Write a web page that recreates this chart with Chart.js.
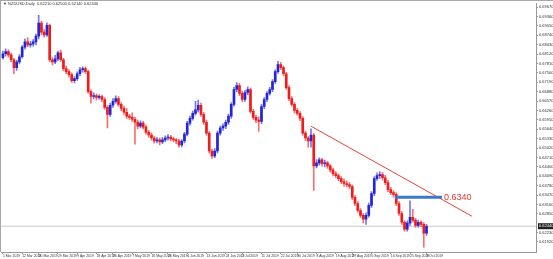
<!DOCTYPE html>
<html>
<head>
<meta charset="utf-8">
<script src="https://cdn.jsdelivr.net/npm/chart.js@4/dist/chart.umd.min.js"></script>
<style>
  body { margin: 0; background: #fff; }
  #wrap { width: 553px; height: 259px; }
</style>
</head>
<body>
<div id="wrap"><canvas id="NzdUsdDaily"></canvas></div>
<script>
// NZDUSD daily candles, 1 Mar 2019 .. 3 Oct 2019 (one entry per weekday)
const opens = [
  0.6800,0.6813,0.6820,0.6809,0.6793,0.6767,0.6786,0.6803,0.6835,0.6852,
  0.6842,0.6845,0.6852,0.6871,0.6914,0.6884,0.6875,0.6907,0.6793,0.6786,
  0.6796,0.6816,0.6793,0.6764,0.6754,0.6744,0.6724,0.6731,0.6747,0.6760,
  0.6764,0.6754,0.6688,0.6672,0.6675,0.6669,0.6672,0.6662,0.6636,0.6613,
  0.6643,0.6656,0.6665,0.6646,0.6633,0.6620,0.6607,0.6603,0.6597,0.6587,
  0.6574,0.6584,0.6571,0.6554,0.6545,0.6535,0.6525,0.6529,0.6522,0.6529,
  0.6535,0.6538,0.6532,0.6529,0.6525,0.6512,0.6525,0.6548,0.6584,0.6600,
  0.6616,0.6628,0.6643,0.6613,0.6587,0.6551,0.6492,0.6476,0.6492,0.6551,
  0.6568,0.6574,0.6587,0.6607,0.6646,0.6695,0.6708,0.6682,0.6662,0.6685,
  0.6695,0.6623,0.6603,0.6594,0.6590,0.6639,0.6662,0.6682,0.6695,0.6721,
  0.6754,0.6777,0.6767,0.6747,0.6701,0.6665,0.6646,0.6626,0.6616,0.6600,
  0.6551,0.6535,0.6525,0.6545,0.6443,0.6453,0.6463,0.6450,0.6453,0.6443,
  0.6430,0.6417,0.6411,0.6401,0.6391,0.6385,0.6381,0.6375,0.6339,0.6319,
  0.6296,0.6280,0.6267,0.6280,0.6313,0.6352,0.6401,0.6411,0.6414,0.6404,
  0.6388,0.6365,0.6355,0.6349,0.6319,0.6286,0.6257,0.6234,0.6254,0.6273,
  0.6264,0.6247,0.6257,0.6250,0.6221
];
const highs = [
  0.6822,0.6829,0.6826,0.6815,0.6798,0.6792,0.6810,0.6840,0.6862,0.6866,
  0.6854,0.6860,0.6878,0.6940,0.6920,0.6893,0.6915,0.6911,0.6800,0.6808,
  0.6822,0.6825,0.6798,0.6772,0.6761,0.6750,0.6738,0.6753,0.6768,0.6770,
  0.6770,0.6758,0.6694,0.6684,0.6681,0.6678,0.6677,0.6668,0.6642,0.6650,
  0.6665,0.6674,0.6672,0.6652,0.6640,0.6632,0.6613,0.6618,0.6603,0.6594,
  0.6592,0.6590,0.6578,0.6560,0.6552,0.6541,0.6536,0.6535,0.6537,0.6542,
  0.6546,0.6544,0.6538,0.6534,0.6531,0.6530,0.6554,0.6590,0.6607,0.6624,
  0.6656,0.6660,0.6650,0.6620,0.6594,0.6556,0.6498,0.6500,0.6558,0.6574,
  0.6582,0.6594,0.6614,0.6652,0.6702,0.6718,0.6715,0.6690,0.6692,0.6704,
  0.6700,0.6630,0.6610,0.6605,0.6646,0.6668,0.6688,0.6702,0.6728,0.6760,
  0.6788,0.6785,0.6772,0.6752,0.6708,0.6672,0.6652,0.6632,0.6622,0.6606,
  0.6558,0.6540,0.6565,0.6550,0.6464,0.6470,0.6468,0.6462,0.6458,0.6448,
  0.6436,0.6424,0.6417,0.6408,0.6400,0.6394,0.6388,0.6380,0.6345,0.6325,
  0.6302,0.6286,0.6288,0.6320,0.6358,0.6408,0.6420,0.6424,0.6422,0.6412,
  0.6395,0.6372,0.6362,0.6355,0.6325,0.6292,0.6262,0.6262,0.6328,0.6300,
  0.6270,0.6264,0.6262,0.6256,0.6250
];
const lows = [
  0.6795,0.6805,0.6802,0.6786,0.6747,0.6758,0.6779,0.6798,0.6828,0.6836,
  0.6835,0.6838,0.6842,0.6862,0.6876,0.6868,0.6870,0.6786,0.6776,0.6780,
  0.6790,0.6788,0.6757,0.6747,0.6736,0.6718,0.6717,0.6725,0.6741,0.6752,
  0.6748,0.6682,0.6650,0.6664,0.6660,0.6663,0.6655,0.6630,0.6568,0.6606,
  0.6636,0.6650,0.6640,0.6625,0.6613,0.6600,0.6596,0.6590,0.6515,0.6566,
  0.6568,0.6564,0.6548,0.6538,0.6528,0.6518,0.6519,0.6512,0.6516,0.6523,
  0.6528,0.6525,0.6522,0.6516,0.6505,0.6506,0.6519,0.6542,0.6577,0.6594,
  0.6610,0.6620,0.6606,0.6580,0.6544,0.6485,0.6468,0.6470,0.6486,0.6544,
  0.6560,0.6566,0.6580,0.6600,0.6640,0.6688,0.6675,0.6655,0.6656,0.6678,
  0.6617,0.6596,0.6586,0.6557,0.6582,0.6632,0.6655,0.6676,0.6688,0.6715,
  0.6748,0.6760,0.6740,0.6695,0.6658,0.6640,0.6618,0.6610,0.6592,0.6544,
  0.6526,0.6505,0.6505,0.6362,0.6436,0.6445,0.6442,0.6440,0.6435,0.6422,
  0.6410,0.6404,0.6394,0.6384,0.6376,0.6374,0.6368,0.6332,0.6312,0.6290,
  0.6272,0.6255,0.6250,0.6274,0.6306,0.6345,0.6395,0.6402,0.6397,0.6381,
  0.6358,0.6348,0.6340,0.6312,0.6280,0.6250,0.6228,0.6228,0.6247,0.6257,
  0.6240,0.6241,0.6243,0.6175,0.6214
];
const closes = [
  0.6813,0.6820,0.6809,0.6793,0.6767,0.6786,0.6803,0.6835,0.6852,0.6842,
  0.6845,0.6852,0.6871,0.6914,0.6884,0.6875,0.6907,0.6793,0.6786,0.6796,
  0.6816,0.6793,0.6764,0.6754,0.6744,0.6724,0.6731,0.6747,0.6760,0.6764,
  0.6754,0.6688,0.6672,0.6675,0.6669,0.6672,0.6662,0.6636,0.6613,0.6643,
  0.6656,0.6665,0.6646,0.6633,0.6620,0.6607,0.6603,0.6597,0.6587,0.6574,
  0.6584,0.6571,0.6554,0.6545,0.6535,0.6525,0.6529,0.6522,0.6529,0.6535,
  0.6538,0.6532,0.6529,0.6525,0.6512,0.6525,0.6548,0.6584,0.6600,0.6616,
  0.6628,0.6643,0.6613,0.6587,0.6551,0.6492,0.6476,0.6492,0.6551,0.6568,
  0.6574,0.6587,0.6607,0.6646,0.6695,0.6708,0.6682,0.6662,0.6685,0.6695,
  0.6623,0.6603,0.6594,0.6590,0.6639,0.6662,0.6682,0.6695,0.6721,0.6754,
  0.6777,0.6767,0.6747,0.6701,0.6665,0.6646,0.6626,0.6616,0.6600,0.6551,
  0.6535,0.6525,0.6545,0.6443,0.6453,0.6463,0.6450,0.6453,0.6443,0.6430,
  0.6417,0.6411,0.6401,0.6391,0.6385,0.6381,0.6375,0.6339,0.6319,0.6296,
  0.6280,0.6267,0.6280,0.6313,0.6352,0.6401,0.6411,0.6414,0.6404,0.6388,
  0.6365,0.6355,0.6349,0.6319,0.6286,0.6257,0.6234,0.6254,0.6273,0.6264,
  0.6247,0.6257,0.6250,0.6221,0.6244
];

// date labels along the bottom (bar index -> text)
const labelBars = [0,7,13,20,27,34,40,47,54,60,67,74,81,87,94,101,107,114,121,127,134,141,148,154];
const labelTexts = ["1 Mar 2019","12 Mar 2019","20 Mar 2019","29 Mar 2019","9 Apr 2019","18 Apr 2019",
  "26 Apr 2019","7 May 2019","16 May 2019","24 May 2019","4 Jun 2019","13 Jun 2019","24 Jun 2019",
  "2 Jul 2019","11 Jul 2019","22 Jul 2019","30 Jul 2019","8 Aug 2019","19 Aug 2019","27 Aug 2019",
  "5 Sep 2019","16 Sep 2019","25 Sep 2019","3 Oct 2019"];

// price labels on the right axis
const priceTicks = ["0.69670","0.69360","0.69050","0.68740","0.68430","0.68120","0.67810","0.67500",
  "0.67190","0.66880","0.66570","0.66260","0.65950","0.65640","0.65330","0.65020","0.64710","0.64400",
  "0.64090","0.63780","0.63470","0.63160","0.62850","0.62230","0.61920"];

// hand drawn objects: resistance trendline and the 0.6340 level
const trendBars = [112, 170.5];
const trendPrices = [0.6574, 0.6277];
const levelBars = [142.5, 159.6];
const levelPrice = 0.6340;
const levelText = "0.6340";

const title = "\u25BC NZDUSD,Daily  0.62210 0.62500 0.62140 0.62440";

const bull = "#2424d8", bear = "#f01c1c";
const lastClose = closes[closes.length - 1];

const candleColor = closes.map((c, i) => c >= opens[i] ? bull : bear);
const wickColor = closes.map((c, i) => c >= opens[i] ? "rgba(60,60,225,0.7)" : "rgba(240,50,50,0.7)");

const tinyFont = { family: "'Liberation Sans Narrow', 'Liberation Sans', Arial, sans-serif", size: 3.4 };

// extra drawing: frame, title, price box and the level caption
const extras = {
  id: "extras",
  afterDraw(chart) {
    const ctx = chart.ctx, x = chart.scales.x, y = chart.scales.y, a = chart.chartArea;
    ctx.save();
    ctx.strokeStyle = "#a8a8a8";
    ctx.lineWidth = 1;
    ctx.beginPath();
    ctx.moveTo(0, 0.5); ctx.lineTo(chart.width, 0.5);
    ctx.moveTo(0.5, 0); ctx.lineTo(0.5, a.bottom);
    ctx.stroke();

    ctx.fillStyle = "#333";
    ctx.font = "4px 'Liberation Sans', Arial, sans-serif";
    ctx.textBaseline = "top";
    ctx.textAlign = "left";
    ctx.fillText(title, 3, 2);

    // current price box
    const py = y.getPixelForValue(lastClose);
    ctx.fillStyle = "#202020";
    ctx.fillRect(a.right + 2, py - 3, 15, 6);
    ctx.fillStyle = "#fff";
    ctx.textBaseline = "middle";
    ctx.fillText(lastClose.toFixed(5), a.right + 3, py);

    // caption of the level line
    ctx.fillStyle = "#e8322e";
    ctx.font = "9px 'Liberation Sans', Arial, sans-serif";
    ctx.fillText(levelText, x.getPixelForValue(levelBars[1]) + 2, y.getPixelForValue(levelPrice));
    ctx.restore();
  }
};

new Chart("NzdUsdDaily", {
  type: "bar",
  data: {
    datasets: [{
      label: "wicks",
      data: closes.map((c, i) => ({ x: i, y: [lows[i], highs[i]] })),
      backgroundColor: wickColor,
      barThickness: 1,
      grouped: false,
      order: 3
    }, {
      label: "bodies",
      data: closes.map((c, i) => ({ x: i, y: [opens[i], c] })),
      backgroundColor: candleColor,
      barThickness: 2,
      minBarLength: 1,
      grouped: false,
      order: 2
    }, {
      type: "line",
      label: "bid",
      data: [{ x: -0.7, y: lastClose }, { x: 193.8, y: lastClose }],
      borderColor: "#c8c8c8",
      borderWidth: 1,
      pointRadius: 0,
      order: 4
    }, {
      type: "line",
      label: "trend",
      data: trendBars.map((b, i) => ({ x: b, y: trendPrices[i] })),
      borderColor: "#e8403c",
      borderWidth: 1,
      pointRadius: 0,
      order: 1
    }, {
      type: "line",
      label: "level",
      data: levelBars.map(b => ({ x: b, y: levelPrice })),
      borderColor: "#3a7ac8",
      borderWidth: 3,
      pointRadius: 0,
      order: 0
    }]
  },
  options: {
    responsive: true,
    maintainAspectRatio: false,
    animation: false,
    layout: { padding: { left: 1, top: 1, right: 0, bottom: 0 } },
    plugins: {
      legend: { display: false },
      tooltip: { enabled: false }
    },
    scales: {
      x: {
        type: "linear",
        min: -0.7,
        max: 193.8,
        offset: false,
        grid: { display: true, drawOnChartArea: false, offset: false, tickLength: 2, color: "#999" },
        border: { display: true, color: "#999" },
        afterFit(scale) { scale.height = 7; },
        afterBuildTicks(scale) { scale.ticks = labelBars.map(v => ({ value: v })); },
        ticks: {
          autoSkip: false,
          maxRotation: 0,
          align: "start",
          padding: 0,
          font: tinyFont,
          color: "#333",
          callback: v => labelTexts[labelBars.indexOf(v)]
        }
      },
      y: {
        position: "right",
        min: 0.6159,
        max: 0.6979,
        grid: { display: true, drawOnChartArea: false, tickLength: 2, color: "#999" },
        border: { display: true, color: "#999" },
        afterFit(scale) { scale.width = 17; },
        afterBuildTicks(scale) { scale.ticks = priceTicks.map(t => ({ value: parseFloat(t) })); },
        ticks: {
          padding: 1,
          font: { family: "'Liberation Sans', Arial, sans-serif", size: 4 },
          color: "#333",
          callback: v => v.toFixed(5)
        }
      }
    }
  },
  plugins: [extras]
});
</script>
</body>
</html>
